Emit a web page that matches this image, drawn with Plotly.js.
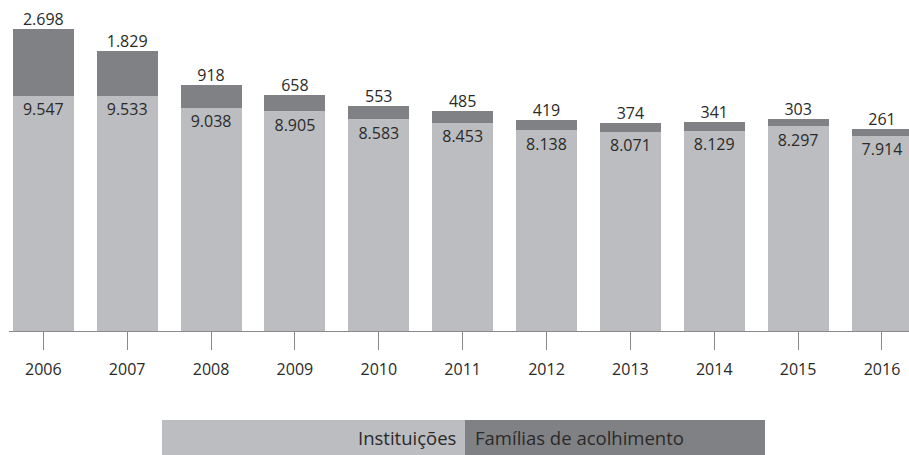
<!DOCTYPE html>
<html>
<head>
<meta charset="utf-8">
<script src="https://cdn.plot.ly/plotly-3.0.1.min.js"></script>
<style>html,body{margin:0;padding:0;background:#fff;}#chart{width:909px;height:455px;}</style>
</head>
<body>
<div id="chart"></div>
<script>
const years = ['2006','2007','2008','2009','2010','2011','2012','2013','2014','2015','2016'];
const instituicoes = [9547, 9533, 9038, 8905, 8583, 8453, 8138, 8071, 8129, 8297, 7914];
const familias = [2698, 1829, 918, 658, 553, 485, 419, 374, 341, 303, 261];
const seriesNames = ['Instituições', 'Famílias de acolhimento'];

const lightGray = '#bcbdc0';
const darkGray = '#808184';
const textColor = '#2a2a2a';
const fontFam = '"Open Sans", "DejaVu Sans", sans-serif';

function fmt(v){ return String(v).replace(/\B(?=(\d{3})+(?!\d))/g, '.'); }
const totals = instituicoes.map((v,i)=>v+familias[i]);

const traces = [
  {type:'bar', x:years, y:instituicoes, name:seriesNames[0], marker:{color:lightGray}, width:0.727, hoverinfo:'skip'},
  {type:'bar', x:years, y:familias, name:seriesNames[1], marker:{color:darkGray}, width:0.727, hoverinfo:'skip'},
  {type:'scatter', mode:'markers+text', x:years, y:instituicoes, text:instituicoes.map(fmt), textposition:'bottom center',
   marker:{size:10, opacity:0}, textfont:{family:fontFam, size:16, color:textColor}, cliponaxis:false, hoverinfo:'skip'},
  {type:'scatter', mode:'text', x:years, y:totals, text:familias.map(fmt), textposition:'top center',
   textfont:{family:fontFam, size:16, color:textColor}, cliponaxis:false, hoverinfo:'skip'}
];

const H = 331; // plot height in px
function py(p){ return (H - p)/H; }
function px(p){ return (p - 9)/900; }

const layout = {
  width:909, height:455,
  margin:{l:9, r:0, t:0, b:124},
  barmode:'stack',
  showlegend:false,
  paper_bgcolor:'#fff', plot_bgcolor:'#fff',
  font:{family:fontFam, color:textColor},
  xaxis:{type:'category', range:[-0.409, 10.322], showgrid:false, zeroline:false,
    showline:true, linecolor:'#8a8a8a', linewidth:1,
    ticks:'outside', ticklen:18, tickcolor:'#8a8a8a', tickwidth:1,
    tickfont:{family:fontFam, size:16, color:textColor}, ticklabelstandoff:6},
  yaxis:{range:[0, 13421], visible:false, showgrid:false, zeroline:false},
  shapes:[
    {type:'rect', xref:'paper', yref:'paper', x0:px(162), x1:px(465), y0:py(455), y1:py(420), fillcolor:lightGray, line:{width:0}},
    {type:'rect', xref:'paper', yref:'paper', x0:px(465), x1:px(765), y0:py(455), y1:py(420), fillcolor:darkGray, line:{width:0}}
  ],
  annotations:[
    {xref:'paper', yref:'paper', x:px(458), y:py(438), xanchor:'right', yanchor:'middle', text:seriesNames[0], showarrow:false,
     font:{family:fontFam, size:18.5, color:textColor}},
    {xref:'paper', yref:'paper', x:px(473), y:py(438), xanchor:'left', yanchor:'middle', text:seriesNames[1], showarrow:false,
     font:{family:fontFam, size:18.5, color:textColor}}
  ]
};

Plotly.newPlot('chart', traces, layout, {displayModeBar:false, staticPlot:true});
</script>
</body>
</html>
